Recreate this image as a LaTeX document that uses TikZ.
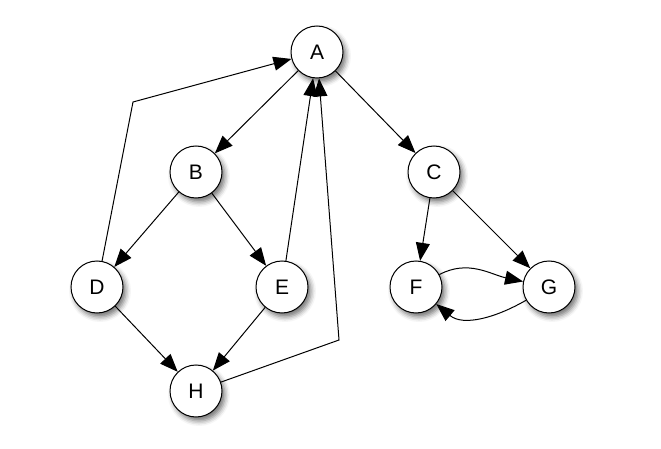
\documentclass[tikz,border=0pt]{standalone}
\usepackage{fontspec}
\setmainfont{Liberation Sans}
\usetikzlibrary{arrows.meta,shadows.blur}
\begin{document}
\begin{tikzpicture}[x=1pt,y=-1pt,
  vertex/.style={circle,draw=black,line width=1pt,fill=white,minimum size=52pt,inner sep=0pt,
    font=\fontsize{21}{23}\selectfont,
    blur shadow={shadow xshift=3pt,shadow yshift=-4pt,shadow blur radius=5pt,shadow opacity=55}},
  edge/.style={line width=1pt,-{Triangle[length=18pt,width=14pt]}}]
\useasboundingbox (0,0) rectangle (661,449);
\node[vertex] (A) at (317,52) {A};
\node[vertex] (B) at (196,172) {B};
\node[vertex] (C) at (434,172) {C};
\node[vertex] (D) at (97,287) {D};
\node[vertex] (E) at (282,287) {E};
\node[vertex] (F) at (416,287) {F};
\node[vertex] (G) at (549,287) {G};
\node[vertex] (H) at (196,391) {H};
\coordinate (d1) at (133,102);
\coordinate (h1) at (339,340);
\draw[edge] (A) -- (B);
\draw[edge] (A) -- (C);
\draw[edge] (B) -- (D);
\draw[edge] (B) -- (E);
\draw[edge] (D) -- (H);
\draw[edge] (E) -- (H);
\draw[edge] (C) -- (F);
\draw[edge] (C) -- (G);
\draw[edge] (E) -- (A);
\draw[edge] (D) -- (d1) -- (A);
\draw[edge] (H) -- (h1) -- (A);
\draw[edge] (F) to[out=28,in=168] (G);
\draw[edge] (G) to[out=-150,in=-40] (F);
\end{tikzpicture}
\end{document}
